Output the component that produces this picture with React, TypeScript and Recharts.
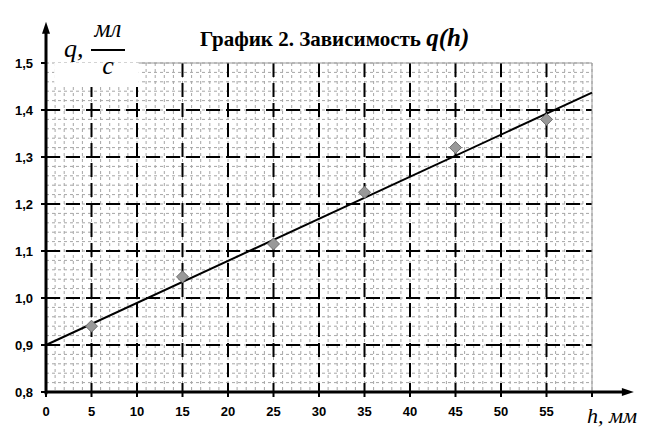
import {
  ComposedChart,
  XAxis,
  YAxis,
  CartesianGrid,
  Scatter,
  Line,
  ReferenceLine,
  ReferenceDot,
  ReferenceArea,
} from 'recharts';

// measured points q(h)
const heights = [5, 15, 25, 35, 45, 55];
const flows = [0.94, 1.045, 1.115, 1.225, 1.32, 1.38];

// fitted straight line, two ends
const fitHeights = [0, 60];
const fitFlows = [0.9, 1.437];

const xTicks = [0, 5, 10, 15, 20, 25, 30, 35, 40, 45, 50, 55, 60];
const yTicks = [0.8, 0.9, 1.0, 1.1, 1.2, 1.3, 1.4, 1.5];

// inner major grid lines (borders drawn separately)
const majorX = xTicks.slice(1, -1);
const majorY = yTicks.slice(1, -1);
const minorX = Array.from({ length: 61 }, (_, i) => i);
const minorY = Array.from({ length: 36 }, (_, i) => +(0.8 + i * 0.02).toFixed(2));

const points = heights.map((h, i) => ({ h, q: flows[i] }));
const fitData = fitHeights.map((h, i) => ({ h, q: fitFlows[i] }));

const W = 655;
const H = 440;

const tickFont = {
  fill: '#000',
  fontSize: 13,
  fontWeight: 'bold',
  fontFamily: '"Liberation Sans", Arial, sans-serif',
};

const fmt = (v: number) => v.toFixed(1).replace('.', ',');

const Diamond = (props: any) => {
  const { cx, cy } = props;
  const r = 6;
  return (
    <path
      d={`M${cx},${cy - r}L${cx + r},${cy}L${cx},${cy + r}L${cx - r},${cy}Z`}
      fill="#999"
      stroke="#707070"
      strokeWidth={1}
    />
  );
};

const ArrowRight = (props: any) => {
  const { cx, cy } = props;
  return <path d={`M${cx},${cy}L${cx - 12},${cy - 4}L${cx - 12},${cy + 4}Z`} fill="#000" />;
};

const ArrowUp = (props: any) => {
  const { cx, cy } = props;
  return <path d={`M${cx},${cy}L${cx - 4},${cy + 12}L${cx + 4},${cy + 12}Z`} fill="#000" />;
};

const serif = '"Liberation Serif", "Times New Roman", serif';

export default function App() {
  return (
    <div style={{ position: 'absolute', left: 0, top: 0, width: W, height: H, background: '#fff' }}>
      <ComposedChart width={W} height={H} margin={{ top: 63, right: 63, bottom: 0, left: 0 }}>
        <XAxis
          dataKey="h"
          type="number"
          domain={[0, 60]}
          ticks={xTicks}
          interval={0}
          height={48}
          axisLine={false}
          tickLine={{ stroke: '#000', strokeWidth: 2 }}
          tickSize={5}
          tickMargin={10}
          tick={tickFont}
          tickFormatter={(v: number) => (v === 60 ? '' : String(v))}
        />
        <YAxis
          type="number"
          domain={[0.8, 1.5]}
          ticks={yTicks}
          interval={0}
          width={46}
          axisLine={false}
          tickLine={{ stroke: '#000', strokeWidth: 2 }}
          tickSize={5}
          tickMargin={8}
          tick={tickFont}
          tickFormatter={fmt}
        />

        <CartesianGrid
          verticalValues={minorX}
          horizontalValues={minorY}
          stroke="#a6a6a6"
          strokeDasharray="3 3"
          strokeWidth={1}
        />
        <CartesianGrid
          verticalValues={majorX}
          horizontalValues={majorY}
          stroke="#000"
          strokeDasharray="14 6"
          strokeWidth={2}
        />

        <ReferenceArea
          x1={0.9}
          x2={10.2}
          y1={1.449}
          y2={1.5}
          fill="#fff"
          fillOpacity={1}
          stroke="none"
          ifOverflow="visible"
        />
        <ReferenceLine x={60} stroke="#999" strokeWidth={1} />
        <ReferenceLine
          segment={[{ x: 10.2, y: 1.5 }, { x: 60, y: 1.5 }]}
          stroke="#999"
          strokeWidth={1}
        />

        <Line
          data={fitData}
          dataKey="q"
          type="linear"
          stroke="#000"
          strokeWidth={2}
          dot={false}
          activeDot={false}
          isAnimationActive={false}
        />
        <Scatter data={points} dataKey="q" shape={Diamond} isAnimationActive={false} />

        <ReferenceLine
          segment={[{ x: 0, y: 0.8 }, { x: 63.4, y: 0.8 }]}
          stroke="#000"
          strokeWidth={3}
          ifOverflow="visible"
        />
        <ReferenceLine
          segment={[{ x: 0, y: 0.795 }, { x: 0, y: 1.565 }]}
          stroke="#000"
          strokeWidth={3}
          ifOverflow="visible"
        />
        <ReferenceDot x={64.6} y={0.8} r={1} shape={ArrowRight} ifOverflow="visible" />
        <ReferenceDot x={0} y={1.588} r={1} shape={ArrowUp} ifOverflow="visible" />
      </ComposedChart>

      <div
        style={{
          position: 'absolute',
          left: 200,
          top: 24,
          fontFamily: serif,
          fontWeight: 'bold',
          fontSize: 21,
          whiteSpace: 'nowrap',
          color: '#000',
          lineHeight: 'normal',
        }}
      >
        График 2. Зависимость{' '}
        <span style={{ fontStyle: 'italic', fontSize: 25 }}>q(h)</span>
      </div>

      <div
        style={{
          position: 'absolute',
          left: 64,
          top: 34,
          fontFamily: serif,
          fontStyle: 'italic',
          fontSize: 26,
          whiteSpace: 'nowrap',
          color: '#000',
        }}
      >
        q,
      </div>
      <div
        style={{
          position: 'absolute',
          left: 89,
          top: 17,
          width: 38,
          textAlign: 'center',
          fontFamily: serif,
          fontStyle: 'italic',
          fontSize: 25,
          color: '#000',
          lineHeight: '24px',
        }}
      >
        мл
      </div>
      <div style={{ position: 'absolute', left: 91, top: 49, width: 34, height: 1.5, background: '#000' }} />
      <div
        style={{
          position: 'absolute',
          left: 89,
          top: 54,
          width: 38,
          textAlign: 'center',
          fontFamily: serif,
          fontStyle: 'italic',
          fontSize: 26,
          color: '#000',
          lineHeight: '24px',
        }}
      >
        c
      </div>

      <div
        style={{
          position: 'absolute',
          left: 587,
          top: 403,
          fontFamily: serif,
          fontStyle: 'italic',
          fontSize: 22,
          whiteSpace: 'nowrap',
          color: '#000',
          lineHeight: 'normal',
        }}
      >
        h, мм
      </div>
    </div>
  );
}
